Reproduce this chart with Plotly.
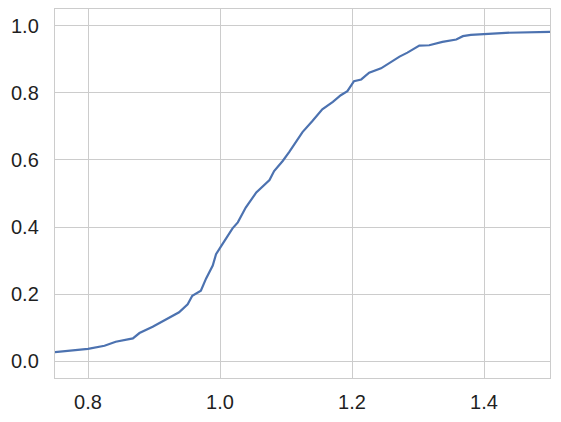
import plotly.graph_objects as go

# ECDF
x_vals = [0.749, 0.800, 0.825, 0.842, 0.868, 0.878, 0.898, 0.916, 0.938, 0.951,
          0.958, 0.971, 0.979, 0.989, 0.994, 1.002, 1.012, 1.019, 1.027, 1.039,
          1.055, 1.065, 1.075, 1.082, 1.095, 1.105, 1.113, 1.125, 1.140, 1.155,
          1.171, 1.183, 1.193, 1.203, 1.214, 1.226, 1.244, 1.257, 1.272, 1.284,
          1.302, 1.317, 1.337, 1.358, 1.368, 1.380, 1.408, 1.433, 1.500]
y_vals = [0.027, 0.037, 0.046, 0.058, 0.068, 0.084, 0.103, 0.123, 0.146, 0.170,
          0.195, 0.210, 0.247, 0.285, 0.319, 0.344, 0.374, 0.396, 0.414, 0.458,
          0.503, 0.523, 0.540, 0.567, 0.597, 0.624, 0.647, 0.683, 0.716, 0.751,
          0.773, 0.793, 0.805, 0.835, 0.840, 0.860, 0.873, 0.890, 0.908, 0.920,
          0.941, 0.942, 0.952, 0.959, 0.969, 0.973, 0.976, 0.979, 0.982]

x_ticks = [0.8, 1.0, 1.2, 1.4]
y_ticks = [0.0, 0.2, 0.4, 0.6, 0.8, 1.0]

fig = go.Figure(go.Scatter(x=x_vals, y=y_vals, mode='lines',
                           line=dict(color='#4c72b0', width=2.2)))

axis_style = dict(showgrid=True, gridcolor='#cccccc', gridwidth=1.3, zeroline=False,
                  showline=True, linecolor='#cccccc', linewidth=1.4, mirror=True,
                  ticks='outside', tickcolor='rgba(0,0,0,0)', automargin=False)
fig.update_xaxes(range=[0.75, 1.5], tickvals=x_ticks, ticktext=['%.1f' % v for v in x_ticks],
                 ticklen=6, **axis_style)
fig.update_yaxes(range=[-0.05, 1.05], tickvals=y_ticks, ticktext=['%.1f' % v for v in y_ticks],
                 ticklen=11, **axis_style)

fig.update_layout(width=561, height=422, showlegend=False,
                  margin=dict(l=55, r=11, t=9, b=44),
                  plot_bgcolor='white', paper_bgcolor='white',
                  font=dict(family='Liberation Sans, Arial, sans-serif', size=20, color='#1f1f1f'))
# drop the page's default body margin so the figure sits at the window's corner
fig.write_html("out.html", config={'displayModeBar': False},
               post_script="document.body.style.margin='0';")
